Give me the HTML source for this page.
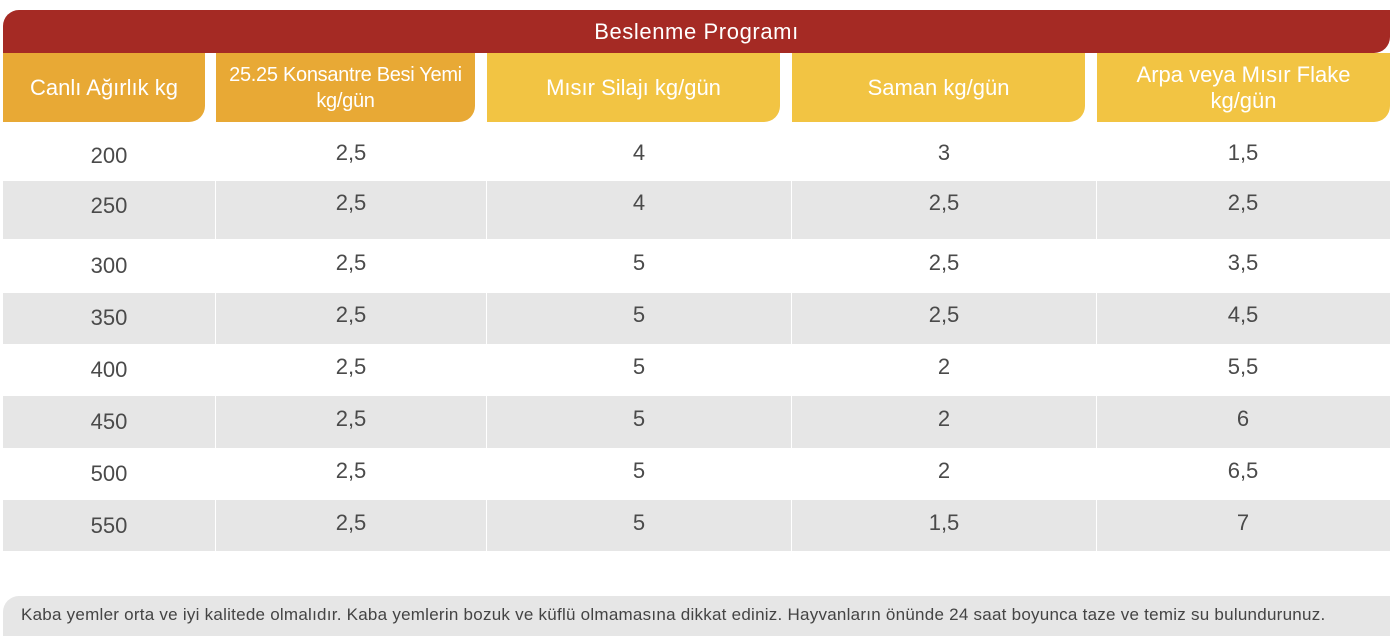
<!DOCTYPE html>
<html><head><meta charset="utf-8"><style>
body{margin:0;width:1394px;height:636px;background:#fff;position:relative;overflow:hidden;font-family:"Liberation Sans",sans-serif;}
.a{position:absolute;box-sizing:border-box}
.ban{left:3px;top:10px;width:1387px;height:43px;background:#a52a24;border-radius:16px 0 16px 0;color:#fff;font-size:22px;letter-spacing:0.6px;text-align:center;line-height:44px}
.h{top:53px;height:69px;color:#fff;font-size:22px;display:flex;align-items:center;justify-content:center;text-align:center;line-height:26px;border-bottom-right-radius:16px}
.o{background:#e8a935}.y{background:#f2c443}
.g{background:#e6e6e6;left:3px;width:1387px}
.v{background:#fff;width:1px}
.t{color:#4a4a4a;font-size:22px;text-align:center;width:200px;margin-left:-100px}
</style></head><body>
<div class="a ban">Beslenme Programı</div>
<div class="a h o" style="left:3px;width:202px">Canlı Ağırlık kg</div>
<div class="a h o" style="left:216px;width:259px;font-size:20px;letter-spacing:-0.3px">25.25 Konsantre Besi Yemi<br>kg/gün</div>
<div class="a h y" style="left:487px;width:293px">Mısır Silajı kg/gün</div>
<div class="a h y" style="left:792px;width:293px">Saman kg/gün</div>
<div class="a h y" style="left:1097px;width:293px">Arpa veya Mısır Flake<br>kg/gün</div>
<div class="a g" style="top:181px;height:58px"></div>
<div class="a g" style="top:293px;height:51px"></div>
<div class="a g" style="top:396px;height:52px"></div>
<div class="a g" style="top:500px;height:51px"></div>
<div class="a v" style="left:215px;top:122px;height:429px"></div>
<div class="a v" style="left:486px;top:122px;height:429px"></div>
<div class="a v" style="left:791px;top:122px;height:429px"></div>
<div class="a v" style="left:1096px;top:122px;height:429px"></div>
<div id="rows"></div>
<div class="a" style="left:3px;top:596px;width:1387px;height:40px;background:#e6e6e6;border-top-left-radius:16px;color:#444;font-size:17px;letter-spacing:0.25px;line-height:38px;padding-left:18px;white-space:nowrap">Kaba yemler orta ve iyi kalitede olmalıdır. Kaba yemlerin bozuk ve küflü olmamasına dikkat ediniz. Hayvanların önünde 24 saat boyunca taze ve temiz su bulundurunuz.</div>
<script>
var d=[["200","2,5","4","3","1,5"],["250","2,5","4","2,5","2,5"],["300","2,5","5","2,5","3,5"],["350","2,5","5","2,5","4,5"],["400","2,5","5","2","5,5"],["450","2,5","5","2","6"],["500","2,5","5","2","6,5"],["550","2,5","5","1,5","7"]];
var ys=[140,190,250,302,354,406,458,510];var xs=[109,351,639,944,1243];
var h="";d.forEach(function(r,i){r.forEach(function(c,j){var y=ys[i]+(j==0?3:0);h+='<div class="a t" style="left:'+xs[j]+'px;top:'+y+'px">'+c+'</div>';});});
document.getElementById("rows").innerHTML=h;
</script>
</body></html>
